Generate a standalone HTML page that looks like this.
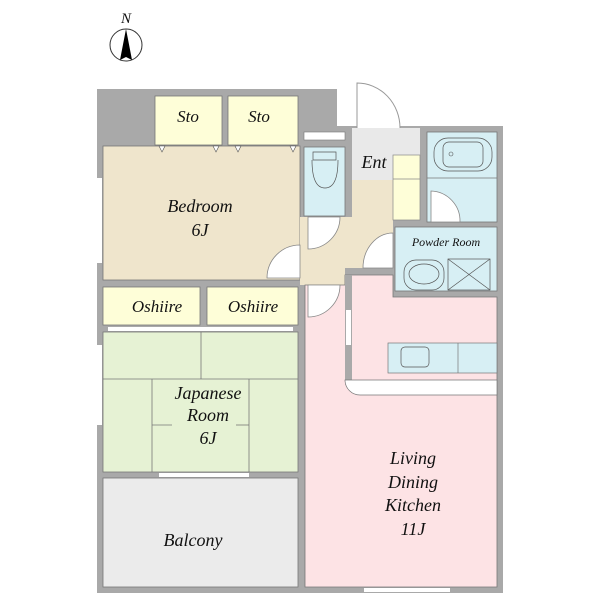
<!DOCTYPE html>
<html><head><style>
body{margin:0;background:#fff}
svg{display:block}
text{font-family:"Liberation Serif",serif;font-style:italic;fill:#111}
</style></head><body>
<svg width="600" height="600" viewBox="0 0 600 600" xmlns="http://www.w3.org/2000/svg">
<g font-style="italic" font-family="Liberation Serif, serif">
<!-- compass -->
<text x="126" y="23" font-size="15" text-anchor="middle" font-style="italic">N</text>
<circle cx="126" cy="45" r="16" fill="none" stroke="#333" stroke-width="1"/>
<path d="M126 29 L120 60 L126 57 L132 60 Z" fill="#000"/>
<!-- walls -->
<path d="M97 89 H337 V126 H503 V593 H97 Z" fill="#a9a9a9"/>
<!-- door arc entrance -->
<path d="M357 128 V83 A43 45 0 0 1 400 128" fill="#fff" stroke="#999" stroke-width="1"/>
<!-- sto -->
<rect x="155" y="96" width="67" height="49" fill="#fefed8" stroke="#777" stroke-width="0.8"/>
<rect x="228" y="96" width="70" height="49" fill="#fefed8" stroke="#777" stroke-width="0.8"/>
<text x="188" y="122" font-size="17" text-anchor="middle" font-style="italic">Sto</text>
<text x="259" y="122" font-size="17" text-anchor="middle" font-style="italic">Sto</text>
<!-- bedroom -->
<rect x="103" y="146" width="197" height="134" fill="#efe5cc" stroke="#777" stroke-width="0.8"/>
<g fill="#fff" stroke="#555" stroke-width="0.6">
<path d="M159 146 l3 6 l3-6z"/><path d="M213 146 l3 6 l3-6z"/><path d="M235 146 l3 6 l3-6z"/><path d="M290 146 l3 6 l3-6z"/>
</g>
<text x="200" y="212" font-size="18" text-anchor="middle" font-style="italic">Bedroom</text>
<text x="200" y="236" font-size="18" text-anchor="middle" font-style="italic">6J</text>
<rect x="97" y="178" width="5" height="85" fill="#fff"/>
<!-- hallway -->
<path d="M300 217 H352 V180 H393 V268 H345 V285 H300 Z" fill="#efe5cc"/>
<path d="M300 278 V245 A33 33 0 0 0 267 278 Z" fill="#fff" stroke="#888" stroke-width="0.8"/>
<path d="M308 217 H340 A32 32 0 0 1 308 249 Z" fill="#fff" stroke="#888" stroke-width="0.8"/>
<path d="M393 233 V268 H363 A30 35 0 0 1 393 233 Z" fill="#fff" stroke="#888" stroke-width="0.8"/>
<!-- toilet -->
<rect x="304" y="132" width="41" height="8" fill="#fff" stroke="#777" stroke-width="0.6"/>
<rect x="304" y="147" width="41" height="69" fill="#d7eff4" stroke="#777" stroke-width="0.8"/>
<path d="M313 152 H336 V160 H313 Z M312 160 Q312 188 325 188 Q338 188 338 160" fill="none" stroke="#555" stroke-width="0.7"/>
<!-- ent -->
<rect x="352" y="128" width="68" height="52" fill="#e9e9e9"/>
<text x="374" y="168" font-size="18" text-anchor="middle" font-style="italic">Ent</text>
<rect x="393" y="155" width="27" height="65" fill="#fefed8" stroke="#888" stroke-width="0.7"/>
<line x1="393" y1="179" x2="420" y2="179" stroke="#888" stroke-width="0.7"/>
<!-- bath -->
<rect x="427" y="132" width="70" height="90" fill="#d7eff4" stroke="#777" stroke-width="0.8"/>
<line x1="427" y1="178" x2="497" y2="178" stroke="#777" stroke-width="0.7"/>
<rect x="434" y="138" width="58" height="33" rx="14" fill="none" stroke="#555" stroke-width="0.7"/>
<rect x="443" y="142" width="40" height="25" rx="6" fill="none" stroke="#555" stroke-width="0.7"/>
<circle cx="451" cy="154" r="2" fill="none" stroke="#555" stroke-width="0.6"/>
<path d="M431 222 V191 A30 30 0 0 1 460 222 Z" fill="#fff" stroke="#888" stroke-width="0.8"/>
<!-- powder room -->
<rect x="395" y="227" width="102" height="64" fill="#d7eff4" stroke="#777" stroke-width="0.8"/>
<text x="446" y="246" font-size="12" text-anchor="middle" font-style="italic">Powder  Room</text>
<rect x="404" y="260" width="40" height="30" rx="12" fill="none" stroke="#555" stroke-width="0.7"/>
<ellipse cx="424" cy="274" rx="15" ry="10" fill="none" stroke="#555" stroke-width="0.7"/>
<rect x="448" y="259" width="42" height="31" fill="none" stroke="#555" stroke-width="0.7"/>
<path d="M448 259 L490 290 M490 259 L448 290" stroke="#555" stroke-width="0.7"/>
<!-- oshiire -->
<rect x="103" y="287" width="97" height="38" fill="#fefed8" stroke="#777" stroke-width="0.8"/>
<rect x="207" y="287" width="91" height="38" fill="#fefed8" stroke="#777" stroke-width="0.8"/>
<text x="157" y="312" font-size="17" text-anchor="middle" font-style="italic">Oshiire</text>
<text x="253" y="312" font-size="17" text-anchor="middle" font-style="italic">Oshiire</text>
<rect x="108" y="327" width="185" height="4" fill="#fff"/>
<!-- japanese room -->
<rect x="103" y="332" width="195" height="140" fill="#e6f2d4" stroke="#777" stroke-width="0.8"/>
<g stroke="#777" stroke-width="0.8">
<line x1="103" y1="379" x2="298" y2="379"/>
<line x1="201" y1="332" x2="201" y2="379"/>
<line x1="152" y1="379" x2="152" y2="472"/>
<line x1="249" y1="379" x2="249" y2="472"/>
<line x1="152" y1="425" x2="172" y2="425"/><line x1="236" y1="425" x2="249" y2="425"/>
</g>
<text x="208" y="399" font-size="18" text-anchor="middle" font-style="italic">Japanese</text>
<text x="208" y="421" font-size="18" text-anchor="middle" font-style="italic">Room</text>
<text x="208" y="444" font-size="18" text-anchor="middle" font-style="italic">6J</text>
<rect x="97" y="345" width="5" height="80" fill="#fff"/>
<rect x="159" y="473" width="90" height="4" fill="#fff"/>
<!-- balcony -->
<rect x="103" y="478" width="195" height="109" fill="#ebebeb" stroke="#777" stroke-width="0.8"/>
<text x="193" y="546" font-size="18" text-anchor="middle" font-style="italic">Balcony</text>
<!-- LDK -->
<path d="M305 285 H345 V275 H393 V297 H497 V587 H305 Z" fill="#fde3e5" stroke="#777" stroke-width="0.8"/>
<rect x="345" y="275" width="7" height="105" fill="#a9a9a9"/>
<rect x="346" y="310" width="5" height="35" fill="#fff"/>
<path d="M308 285 H340 A32 32 0 0 1 308 317 Z" fill="#fff" stroke="#888" stroke-width="0.8"/>
<rect x="388" y="343" width="109" height="30" fill="#d7eff4" stroke="#777" stroke-width="0.7"/>
<line x1="458" y1="343" x2="458" y2="373" stroke="#777" stroke-width="0.7"/>
<rect x="401" y="347" width="28" height="20" rx="4" fill="none" stroke="#555" stroke-width="0.7"/>
<path d="M345 380 H497 V395 H360 A15 15 0 0 1 345 380 Z" fill="#fff" stroke="#777" stroke-width="0.7"/>
<text x="413" y="464" font-size="18" text-anchor="middle" font-style="italic">Living</text>
<text x="413" y="488" font-size="18" text-anchor="middle" font-style="italic">Dining</text>
<text x="413" y="511" font-size="18" text-anchor="middle" font-style="italic">Kitchen</text>
<text x="413" y="535" font-size="18" text-anchor="middle" font-style="italic">11J</text>
<rect x="364" y="588" width="86" height="4" fill="#fff"/>
</g>
</svg>
</body></html>
